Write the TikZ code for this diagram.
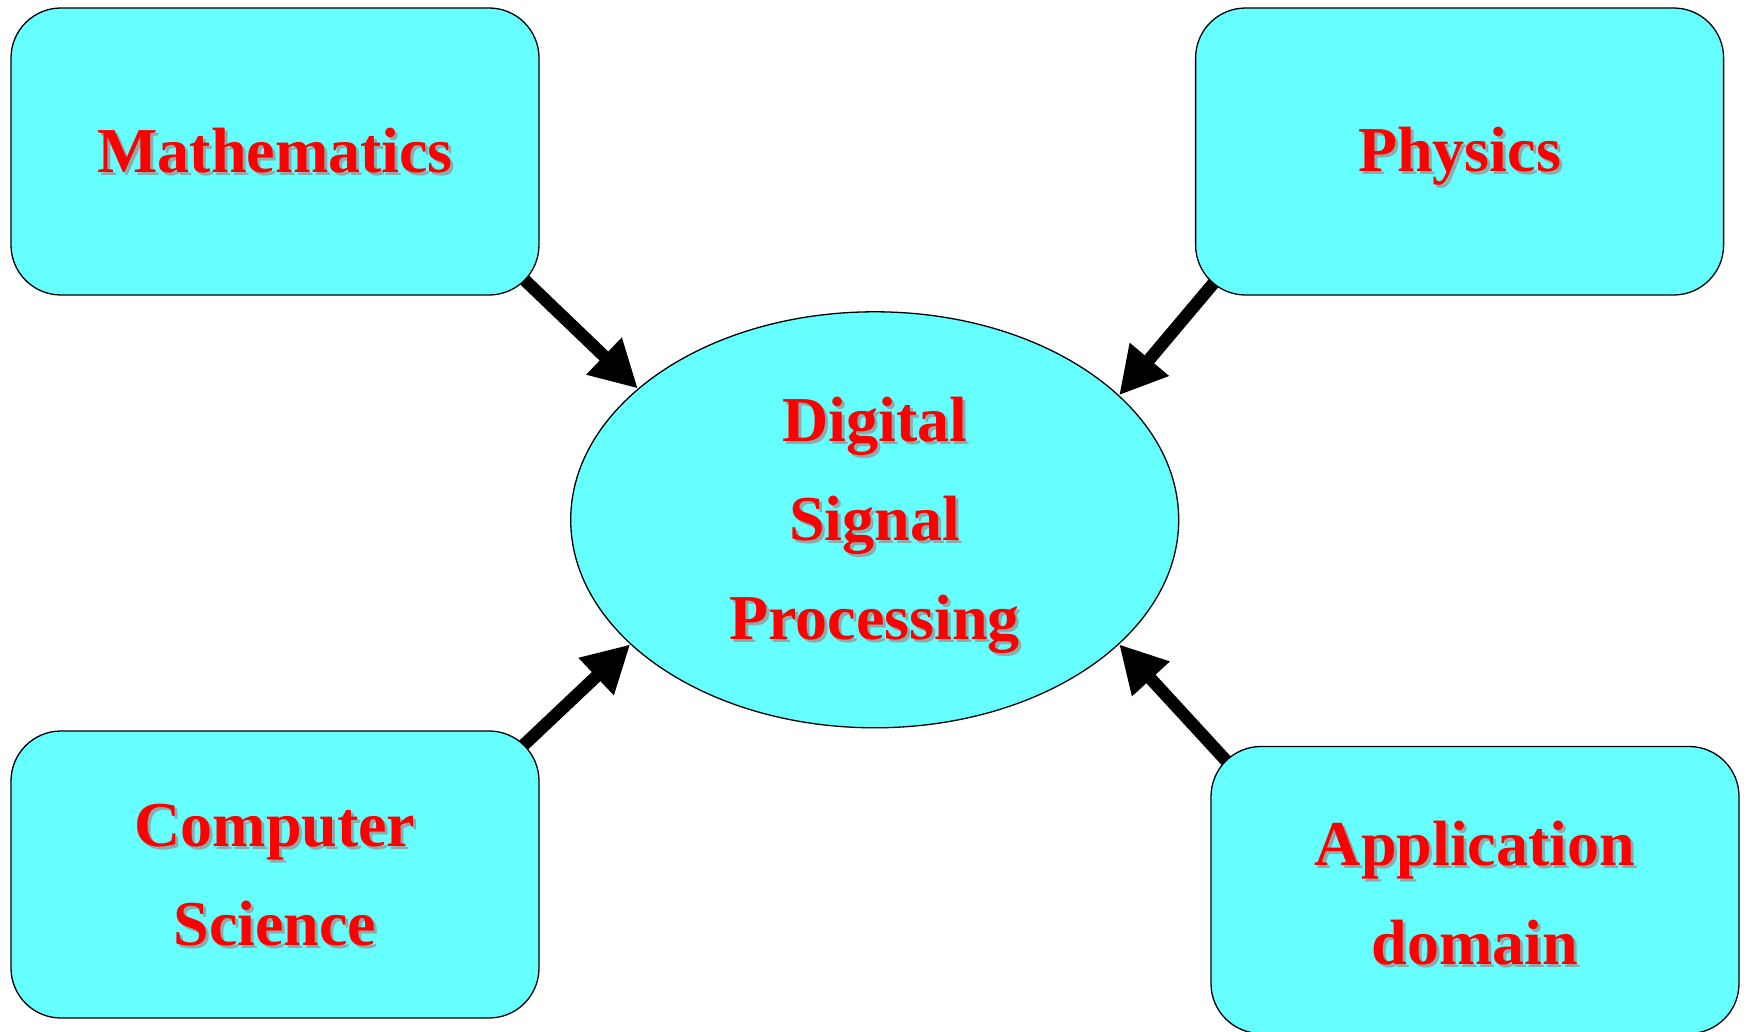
\documentclass[tikz,border=0pt]{standalone}
\usepackage{fontspec}
\setmainfont{Liberation Serif}
\usetikzlibrary{arrows.meta,shapes.geometric,calc,backgrounds}
\definecolor{boxfill}{RGB}{102,255,255}
\definecolor{labelred}{RGB}{255,0,0}
\definecolor{shadowc}{RGB}{140,172,172}
% red label with a soft grey drop shadow
\newcommand\shtext[1]{\leavevmode\rlap{\kern3pt\raisebox{-3pt}{\textcolor{shadowc}{#1}}}\textcolor{labelred}{#1}}
\begin{document}
\begin{tikzpicture}[x=1pt,y=-1pt,
  labeltext/.style={inner sep=0pt, align=center, font=\fontsize{64}{99}\selectfont\bfseries},
  topic/.style={draw=black, line width=1.3pt, fill=boxfill, rounded corners=50pt,
    minimum width=528pt, minimum height=287pt, inner sep=0pt},
  core/.style={ellipse, draw=black, line width=1.3pt, fill=boxfill,
    minimum width=608pt, minimum height=416pt, inner sep=0pt},
  feed/.style={line width=12.5pt, -{Triangle[length=47pt,width=48pt]}}]
\useasboundingbox (0,0) rectangle (1747,1032);

% boxes
\node[topic] (math) at (275,151.5) {};
\node[topic] (phys) at (1459.6,151.5) {};
\node[topic] (cs) at (275,874.5) {};
\node[topic] (app) at (1475,890) {};
\node[core] (dsp) at (874.7,519.8) {};

% labels
\node[labeltext] (mathT) at ($(math)+(0,1)$) {\shtext{Mathematics}};
\node[labeltext] (physT) at ($(phys)+(0,6.5)$) {\shtext{Physics}};
\node[labeltext] (csT) at ($(cs)+(0,2.5)$) {\shtext{Computer}\\\shtext{Science}};
\node[labeltext] (appT) at ($(app)+(0,4.5)$) {\shtext{Application}\\\shtext{domain}};
\node[labeltext] (dspT) at ($(dsp)+(0,7)$) {\shtext{Digital}\\\shtext{Signal}\\\shtext{Processing}};

% connectors into the centre
\begin{pgfonlayer}{background}
  \draw[feed] ($(math.south east)+(-30,-30)$) -- (dsp.151);
  \draw[feed] ($(phys.south west)+(30,-26)$) -- (dsp.27);
  \draw[feed] ($(cs.north east)+(-29,27)$) -- (dsp.207);
  \draw[feed] ($(app.north west)+(27,27)$) -- (dsp.333);
\end{pgfonlayer}
\end{tikzpicture}
\end{document}
